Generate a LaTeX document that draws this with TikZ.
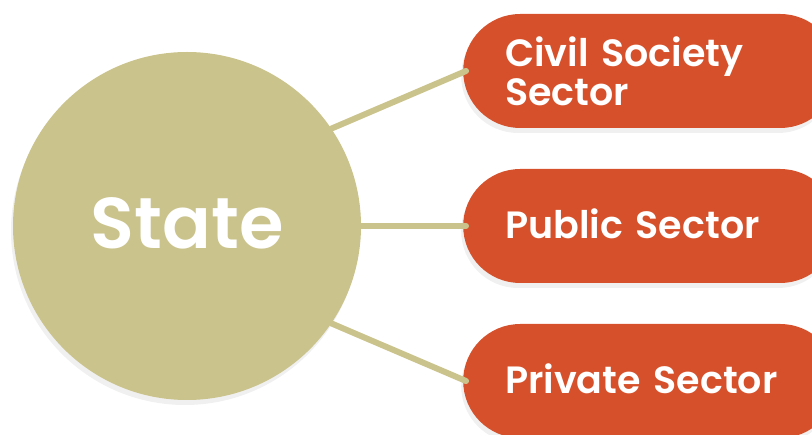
\documentclass[tikz,border=0pt]{standalone}
\usepackage{fontspec}
\setmainfont{Poppins}
\newfontfamily\semibold{Poppins SemiBold}
\usetikzlibrary{shadows}
\definecolor{tan}{HTML}{CBC38C}
\definecolor{rust}{HTML}{D6512B}

\begin{document}
\begin{tikzpicture}[x=1pt,y=-1pt,
        hub/.style={circle,fill=tan,minimum size=348pt,inner sep=0pt,text=white,
            font=\semibold\fontsize{72}{80}\selectfont,
            drop shadow={opacity=0.12,shadow xshift=-2pt,shadow yshift=-5pt}},
        sector/.style={rectangle,rounded corners=57pt,fill=rust,anchor=west,
            minimum height=114pt,text width=290pt,inner xsep=42pt,align=left,text=white,
            font=\semibold\fontsize{38}{39}\selectfont,
            drop shadow={opacity=0.12,shadow xshift=-2pt,shadow yshift=-5pt}},
        link/.style={draw=tan,line width=6pt,line cap=round}]
    \clip (0,0) rectangle (812,435);

    % Central circle
    \node[hub] (state) at (187,226) {\raisebox{6pt}{State}};

    % Sectors
    \node[sector] (civil) at (463,71) {Civil Society\\Sector};
    \node[sector] (public) at (463,226) {\raisebox{4pt}{Public Sector}};
    \node[sector] (private) at (463,381) {\raisebox{4pt}{Private Sector}};

    % Links from state to sectors
    \draw[link] (state.34) -- ([xshift=3pt]civil.west);
    \draw[link] (state.east) -- ([xshift=3pt]public.west);
    \draw[link] (state.-34) -- ([xshift=3pt]private.west);
\end{tikzpicture}
\end{document}
